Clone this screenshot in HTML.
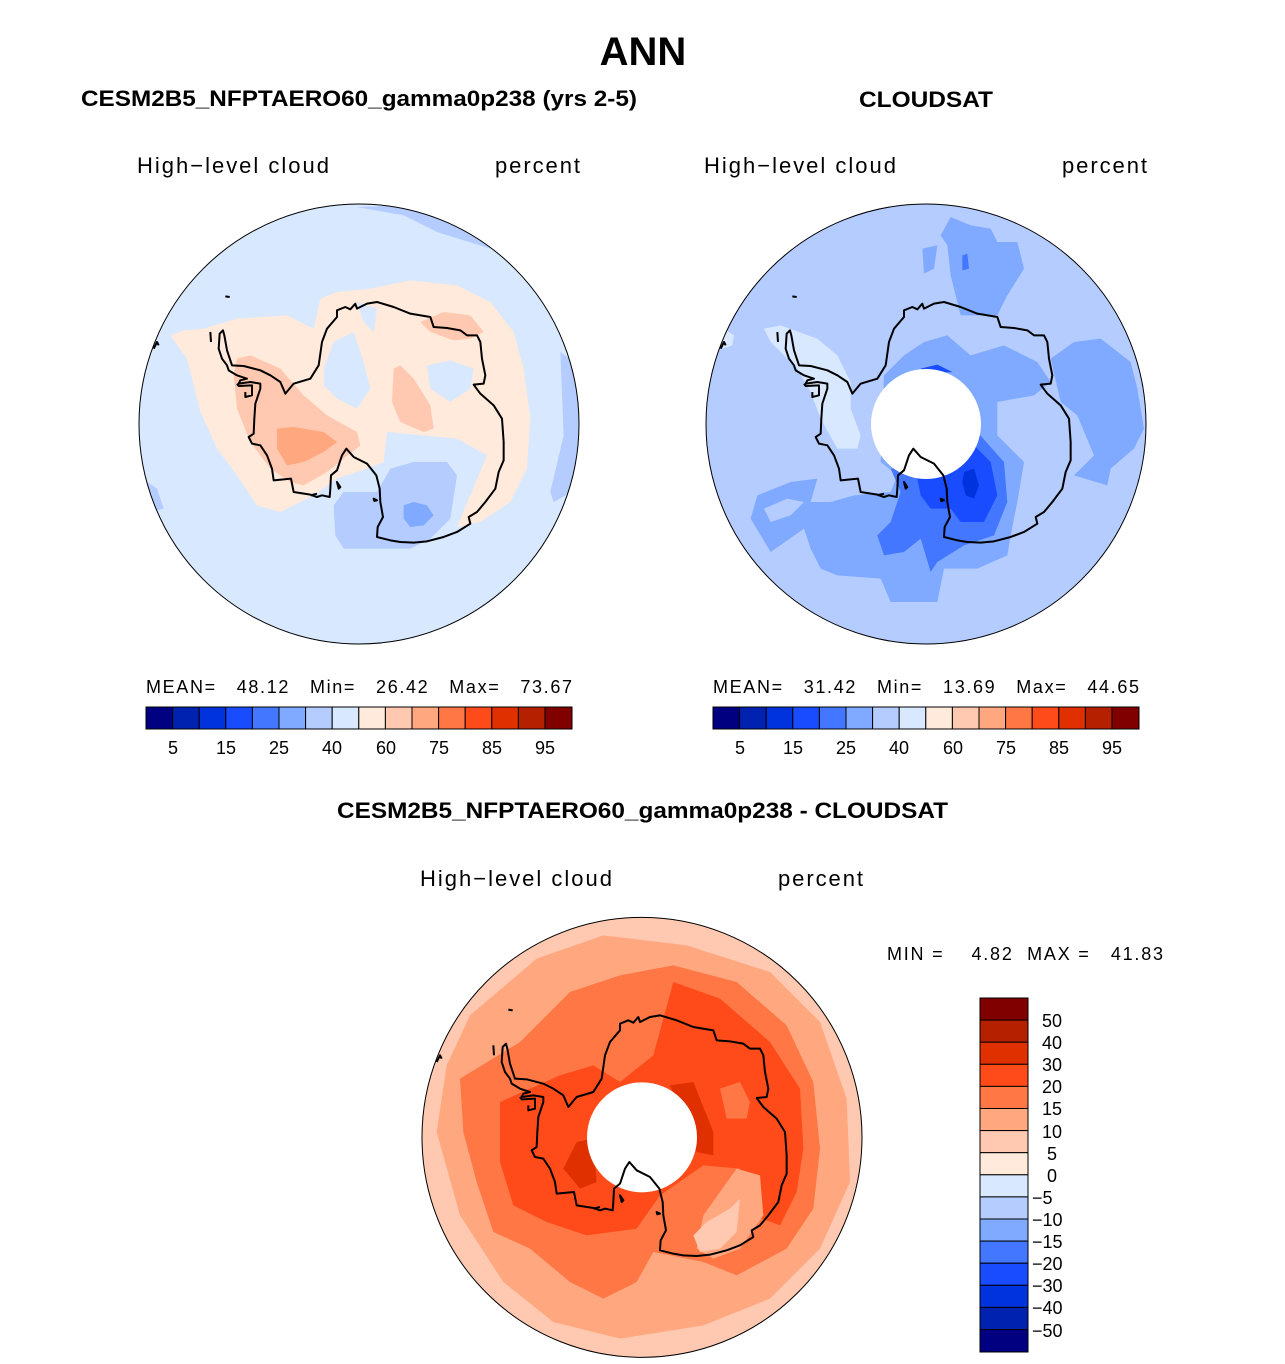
<!DOCTYPE html>
<html><head><meta charset="utf-8"><style>
html,body{margin:0;padding:0;background:#fff}
svg{display:block}
text{font-family:"Liberation Sans","DejaVu Sans",sans-serif;fill:#000}
.b{font-weight:bold}
</style></head><body>
<svg width="1285" height="1364" viewBox="0 0 1285 1364" xmlns="http://www.w3.org/2000/svg">
<defs>
<clipPath id="cz"><circle cx="666" cy="666" r="660"/></clipPath>
<path id="coast" fill="none" stroke="#000" stroke-width="6" stroke-linejoin="round" d="M445,575 L470,545 L520,530 L545,490 L555,420 L570,380 L600,345 L600,325 L625,315 L640,322 L655,305 L660,320 L690,305 L720,300 L770,315 L820,335 L880,345 L890,375 L930,378 L970,385 L990,400 L1020,400 L1030,420 L1035,470 L1045,520 L1040,545 L1010,548 L1030,575 L1070,610 L1095,650 L1100,720 L1100,775 L1085,810 L1075,860 L1045,900 L1020,930 L995,945 L1000,965 L960,990 L920,1005 L870,1018 L830,1022 L790,1020 L760,1015 L720,1005 L722,975 L738,945 L730,900 L728,860 L718,820 L690,785 L650,765 L628,740 L615,760 L600,805 L582,820 L580,860 L578,885 L555,880 L540,885 L520,878 L470,870 L462,830 L410,835 L405,800 L390,760 L370,730 L345,725 L335,705 L350,695 L352,650 L355,605 L370,560 L370,545 L340,540 L305,545 L310,535 L330,530 L300,520 L275,505 L270,490 L255,470 L245,440 L248,395 L258,385 L262,400 L270,445 L285,490 L320,492 L370,505 L400,520 L430,540 L445,575 Z M300,545 L305,552 L345,550 L345,580 L325,585 L325,570 M520,880 L540,875 M600,840 L610,855 L605,860 Z M710,890 L720,895 L712,897 Z M220,390 L222,420 M265,283 L278,285 M50,440 L60,420 L65,430"/>
</defs>

<text x="643" y="65" text-anchor="middle" class="b" font-size="40">ANN</text>
<text x="81" y="106" class="b" font-size="22" textLength="556" lengthAdjust="spacingAndGlyphs">CESM2B5_NFPTAERO60_gamma0p238 (yrs 2-5)</text>
<text x="859" y="107" class="b" font-size="22" textLength="134" lengthAdjust="spacingAndGlyphs">CLOUDSAT</text>

<text x="137" y="173" font-size="22" textLength="192">High−level cloud</text>
<text x="495" y="173" font-size="22" textLength="85">percent</text>
<text x="704" y="173" font-size="22" textLength="192">High−level cloud</text>
<text x="1062" y="173" font-size="22" textLength="85">percent</text>

<!-- LEFT MAP -->
<g transform="translate(137,202) scale(0.33333)">
<g clip-path="url(#cz)">
<rect width="1350" height="1350" fill="#d7e8ff"/>
<polygon fill="#b4ccff" points="660,15 800,40 900,90 1060,140 1000,60 800,10"/>
<polygon fill="#b4ccff" points="1270,450 1340,500 1340,850 1250,900 1240,870 1280,700"/>
<polygon fill="#b4ccff" points="30,840 60,860 80,920 40,930"/>
<polygon fill="#b4ccff" points="590,910 620,870 720,870 760,800 830,780 930,780 960,820 940,950 880,1010 820,1040 700,1040 620,1040 595,1000"/>
<polygon fill="#80aaff" points="800,910 830,900 870,910 890,940 860,970 820,975 800,950"/>
<polygon fill="#ffeadb" points="100,400 140,385 200,380 300,350 450,340 530,380 550,290 600,270 700,260 820,235 960,250 1060,300 1130,390 1160,500 1180,650 1170,800 1120,900 1030,960 960,975 1050,760 960,710 750,690 740,780 690,800 600,830 530,880 430,930 360,910 300,820 240,740 190,630 150,470"/>
<polygon fill="#d7e8ff" points="560,500 590,420 650,390 680,480 700,560 660,620 600,590 560,550"/>
<polygon fill="#d7e8ff" points="660,300 720,320 710,390 680,360"/>
<polygon fill="#d7e8ff" points="870,490 940,475 1010,500 1000,560 940,600 880,560"/>
<polygon fill="#ffc8b0" points="300,470 340,460 430,500 500,580 570,640 660,690 670,730 620,770 570,810 500,850 460,840 400,800 340,720 300,620 290,520"/>
<polygon fill="#ffc8b0" points="770,500 790,490 830,530 880,610 890,680 860,690 790,660 765,600"/>
<polygon fill="#ffc8b0" points="850,360 920,330 1000,340 1040,390 1000,410 950,415 880,390"/>
<polygon fill="#ffa880" points="420,680 470,675 560,690 600,720 560,750 500,780 450,790 420,740"/>
</g>
<use href="#coast"/>
<circle cx="666" cy="666" r="660" fill="none" stroke="#000" stroke-width="3"/>
</g>

<!-- RIGHT MAP -->
<g transform="translate(704,202) scale(0.33333)">
<g clip-path="url(#cz)">
<rect width="1350" height="1350" fill="#b4ccff"/>
<polygon fill="#d7e8ff" points="180,380 230,370 340,410 400,460 440,540 440,620 470,700 460,740 400,740 350,650 320,570 280,500 200,420"/>
<polygon fill="#d7e8ff" points="60,380 90,400 85,430 55,440"/>
<polygon fill="#80aaff" points="710,100 740,45 800,70 860,80 880,120 940,120 960,200 910,280 880,340 800,340 770,340 740,220 730,130"/>
<polygon fill="#80aaff" points="655,140 700,130 690,200 660,215"/>
<polygon fill="#4477ff" points="775,160 790,155 795,200 775,205"/>
<polygon fill="#80aaff" points="1040,470 1110,420 1190,410 1280,480 1300,560 1320,680 1290,740 1220,800 1210,850 1110,820 1170,760 1120,640 1070,600"/>
<polygon fill="#80aaff" points="540,520 600,460 660,420 730,400 800,460 900,430 1000,480 1040,540 990,580 880,600 880,700 960,780 940,900 920,1000 910,1060 820,1100 720,1100 700,1200 640,1200 560,1200 530,1130 400,1120 350,1100 320,1040 300,980 200,1050 140,950 160,880 260,840 340,830 320,900 380,900 450,880 560,870 580,820 530,780"/>
<polygon fill="#b4ccff" points="180,920 250,890 300,900 260,940 200,960"/>
<polygon fill="#4477ff" points="520,1000 560,960 590,870 560,800 650,800 720,730 820,690 900,780 910,900 870,1000 780,1030 700,1080 680,1110 650,1010 600,1050 540,1060"/>
<polygon fill="#1a4cff" points="640,830 720,800 800,720 860,780 880,880 840,960 770,960 740,920 680,920 650,880"/>
<polygon fill="#1a4cff" points="650,500 700,488 745,510 660,515"/>
<polygon fill="#0033dd" points="780,810 810,800 825,850 810,890 785,880 775,840"/>
<circle cx="666" cy="666" r="165" fill="#fff"/>
</g>
<use href="#coast"/>
<circle cx="666" cy="666" r="660" fill="none" stroke="#000" stroke-width="3"/>
</g>

<!-- stats + colorbars top -->
<text x="146" y="693" font-size="18" xml:space="preserve" textLength="426">MEAN=   48.12   Min=   26.42   Max=   73.67</text>
<text x="713" y="693" font-size="18" xml:space="preserve" textLength="426">MEAN=   31.42   Min=   13.69   Max=   44.65</text>
<g stroke="#000" stroke-width="1">
<g id="cbar">
<rect x="146" y="707" width="26.6" height="22" fill="#000080"/>
<rect x="172.6" y="707" width="26.6" height="22" fill="#0022b0"/>
<rect x="199.2" y="707" width="26.6" height="22" fill="#0033dd"/>
<rect x="225.8" y="707" width="26.6" height="22" fill="#1a4cff"/>
<rect x="252.4" y="707" width="26.6" height="22" fill="#4477ff"/>
<rect x="279" y="707" width="26.6" height="22" fill="#80aaff"/>
<rect x="305.6" y="707" width="26.6" height="22" fill="#b4ccff"/>
<rect x="332.2" y="707" width="26.6" height="22" fill="#d7e8ff"/>
<rect x="358.8" y="707" width="26.6" height="22" fill="#ffeadb"/>
<rect x="385.4" y="707" width="26.6" height="22" fill="#ffc8b0"/>
<rect x="412" y="707" width="26.6" height="22" fill="#ffa880"/>
<rect x="438.6" y="707" width="26.6" height="22" fill="#ff7744"/>
<rect x="465.2" y="707" width="26.6" height="22" fill="#ff4a1a"/>
<rect x="491.8" y="707" width="26.6" height="22" fill="#e03000"/>
<rect x="518.4" y="707" width="26.6" height="22" fill="#b42000"/>
<rect x="545" y="707" width="27" height="22" fill="#800000"/>
</g>
<use href="#cbar" x="567"/>
</g>
<g font-size="18" text-anchor="middle">
<text x="173" y="754">5</text><text x="226" y="754">15</text><text x="279" y="754">25</text><text x="332" y="754">40</text>
<text x="386" y="754">60</text><text x="439" y="754">75</text><text x="492" y="754">85</text><text x="545" y="754">95</text>
<text x="740" y="754">5</text><text x="793" y="754">15</text><text x="846" y="754">25</text><text x="899" y="754">40</text>
<text x="953" y="754">60</text><text x="1006" y="754">75</text><text x="1059" y="754">85</text><text x="1112" y="754">95</text>
</g>

<text x="337" y="818" class="b" font-size="22" textLength="611" lengthAdjust="spacingAndGlyphs">CESM2B5_NFPTAERO60_gamma0p238 - CLOUDSAT</text>
<text x="420" y="886" font-size="22" textLength="192">High−level cloud</text>
<text x="778" y="886" font-size="22" textLength="85">percent</text>
<text x="887" y="960" font-size="18" xml:space="preserve" textLength="276">MIN =    4.82  MAX =   41.83</text>

<!-- BOTTOM MAP -->
<g transform="translate(420,910) scale(0.33333)">
<g clip-path="url(#cz)" transform="translate(0,16)">
<rect x="-10" y="-30" width="1370" height="1380" fill="#ffc8b0"/>
<polygon fill="#ffa880" points="150,300 350,130 550,60 800,90 1050,170 1200,320 1280,550 1290,800 1200,1000 1050,1150 850,1230 600,1270 400,1220 250,1100 120,900 50,650 80,450"/>
<polygon fill="#ff7744" points="120,490 300,380 450,230 600,180 760,150 950,200 1100,330 1180,500 1200,700 1180,880 1100,1000 950,1080 850,1040 700,1010 650,1100 550,1150 450,1100 330,1000 220,950 170,800 130,650"/>
<polygon fill="#ff4a1a" points="240,560 420,480 520,450 600,500 700,420 760,200 900,250 1050,380 1140,520 1150,700 1130,830 1080,930 1000,900 960,760 850,750 720,840 650,940 500,960 380,920 280,870 240,740"/>
<polygon fill="#ff7744" points="900,520 960,500 990,560 980,610 920,610"/>
<polygon fill="#ffa880" points="830,1000 850,900 950,760 1020,780 1030,900 960,1000 880,1030"/>
<polygon fill="#ffc8b0" points="820,960 860,920 930,880 960,850 950,950 900,1000 840,1010"/>
<polygon fill="#e03000" points="430,760 470,680 520,670 530,800 480,820"/>
<polygon fill="#e03000" points="750,510 820,500 880,650 880,720 830,710"/>
<circle cx="666" cy="666" r="165" fill="#fff"/>
</g>
<g transform="translate(0,16)"><use href="#coast"/>
<circle cx="666" cy="666" r="660" fill="none" stroke="#000" stroke-width="3"/></g>
</g>

<!-- vertical colorbar -->
<g stroke="#000" stroke-width="1">
<rect x="980" y="998" width="48" height="22.1" fill="#800000"/>
<rect x="980" y="1020.1" width="48" height="22.1" fill="#b42000"/>
<rect x="980" y="1042.2" width="48" height="22.1" fill="#e03000"/>
<rect x="980" y="1064.3" width="48" height="22.1" fill="#ff4a1a"/>
<rect x="980" y="1086.4" width="48" height="22.1" fill="#ff7744"/>
<rect x="980" y="1108.5" width="48" height="22.1" fill="#ffa880"/>
<rect x="980" y="1130.6" width="48" height="22.1" fill="#ffc8b0"/>
<rect x="980" y="1152.7" width="48" height="22.1" fill="#ffeadb"/>
<rect x="980" y="1174.8" width="48" height="22.1" fill="#d7e8ff"/>
<rect x="980" y="1196.9" width="48" height="22.1" fill="#b4ccff"/>
<rect x="980" y="1219" width="48" height="22.1" fill="#80aaff"/>
<rect x="980" y="1241.1" width="48" height="22.1" fill="#4477ff"/>
<rect x="980" y="1263.2" width="48" height="22.1" fill="#1a4cff"/>
<rect x="980" y="1285.3" width="48" height="22.1" fill="#0033dd"/>
<rect x="980" y="1307.4" width="48" height="22.1" fill="#0022b0"/>
<rect x="980" y="1329.5" width="48" height="22.5" fill="#000080"/>
</g>
<g font-size="18">
<text x="1042" y="1027">50</text><text x="1042" y="1049">40</text><text x="1042" y="1071">30</text><text x="1042" y="1093">20</text>
<text x="1042" y="1115">15</text><text x="1042" y="1138">10</text><text x="1047" y="1160">5</text><text x="1047" y="1182">0</text>
<text x="1032" y="1204">−5</text><text x="1032" y="1226">−10</text><text x="1032" y="1248">−15</text><text x="1032" y="1270">−20</text>
<text x="1032" y="1292">−30</text><text x="1032" y="1314">−40</text><text x="1032" y="1337">−50</text>
</g>
</svg>
</body></html>
